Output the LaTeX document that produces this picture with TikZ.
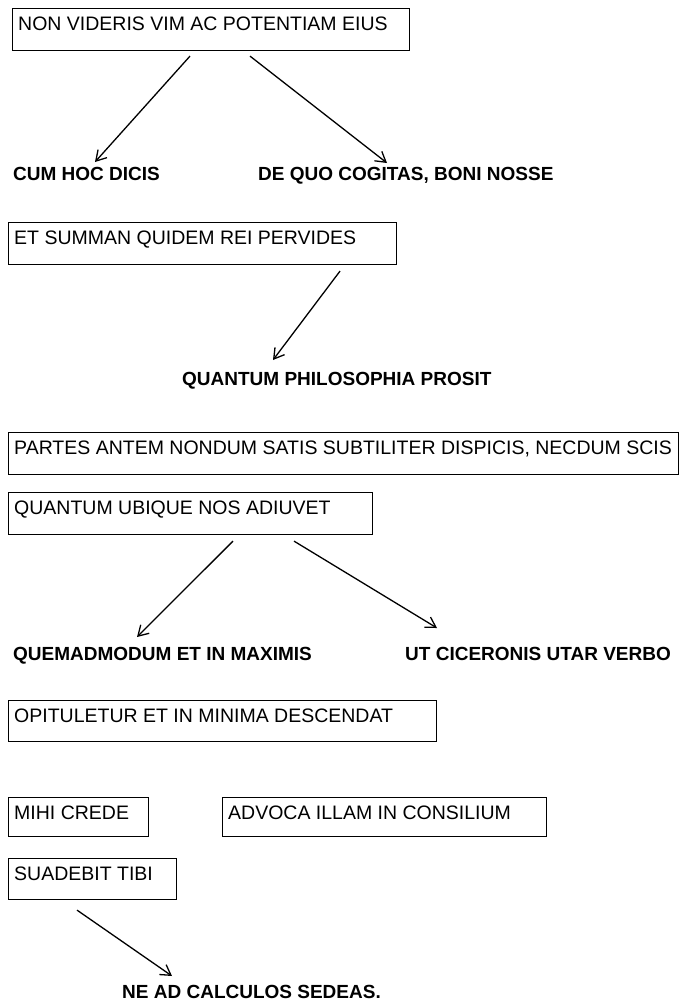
\documentclass[tikz,border=0pt]{standalone}
\usepackage{fontspec}
\setmainfont{Liberation Sans}
\usetikzlibrary{arrows.meta}
\begin{document}
\begin{tikzpicture}[x=1pt,y=-1pt,
  box/.style={draw, line width=1.1pt, inner sep=0pt, anchor=north west},
  boxtext/.style={font=\fontsize{19.5}{22}\selectfont, anchor=north west, inner sep=0pt},
  tag/.style={font=\bfseries\fontsize{19}{22}\selectfont, anchor=north west, inner sep=0pt},
  arr/.style={line width=1.3pt, -{Straight Barb[length=10pt,width=12pt,line width=1.3pt]}}
]
\useasboundingbox (0,0) rectangle (681,1007);

% boxes
\node[box, minimum width=397pt, minimum height=42pt] (b1) at (12,8) {};
\node[boxtext] (t1) at ([shift={(6pt,-9pt)}]b1.north west) {NON VIDERIS VIM AC POTENTIAM EIUS};
\node[box, minimum width=388pt, minimum height=42pt] (b2) at (8,222) {};
\node[boxtext] (t2) at ([shift={(6pt,-9pt)}]b2.north west) {ET SUMMAN QUIDEM REI PERVIDES};
\node[box, minimum width=670pt, minimum height=42pt] (b3) at (8,432) {};
\node[boxtext] (t3) at ([shift={(6pt,-9pt)}]b3.north west) {PARTES ANTEM NONDUM SATIS SUBTILITER DISPICIS, NECDUM SCIS};
\node[box, minimum width=364pt, minimum height=42pt] (b4) at (8,492) {};
\node[boxtext] (t4) at ([shift={(6pt,-9pt)}]b4.north west) {QUANTUM UBIQUE NOS ADIUVET};
\node[box, minimum width=428pt, minimum height=41pt] (b5) at (8,700) {};
\node[boxtext] (t5) at ([shift={(6pt,-9pt)}]b5.north west) {OPITULETUR ET IN MINIMA DESCENDAT};
\node[box, minimum width=140pt, minimum height=39pt] (b6) at (8,797) {};
\node[boxtext] (t6) at ([shift={(6pt,-9pt)}]b6.north west) {MIHI CREDE};
\node[box, minimum width=324pt, minimum height=39pt] (b7) at (222,797) {};
\node[boxtext] (t7) at ([shift={(6pt,-9pt)}]b7.north west) {ADVOCA ILLAM IN CONSILIUM};
\node[box, minimum width=168pt, minimum height=41pt] (b8) at (8,858) {};
\node[boxtext] (t8) at ([shift={(6pt,-9pt)}]b8.north west) {SUADEBIT TIBI};

% bold labels
\node[tag] (l1) at (13,167) {CUM HOC DICIS};
\node[tag] (l2) at (258,167) {DE QUO COGITAS, BONI NOSSE};
\node[tag] (l3) at (182,372) {QUANTUM PHILOSOPHIA PROSIT};
\node[tag] (l4) at (13,647) {QUEMADMODUM ET IN MAXIMIS};
\node[tag] (l5) at (405,647) {UT CICERONIS UTAR VERBO};
\node[tag] (l6) at (122,985) {NE AD CALCULOS SEDEAS.};

% arrows
\draw[arr] ([xshift=178pt,yshift=-5pt]b1.south west) -- ([xshift=82pt,yshift=5pt]l1.north west);
\draw[arr] ([xshift=238pt,yshift=-5pt]b1.south west) -- ([xshift=129pt,yshift=4pt]l2.north west);
\draw[arr] ([xshift=332pt,yshift=-6pt]b2.south west) -- ([xshift=91pt,yshift=12pt]l3.north west);
\draw[arr] ([xshift=225pt,yshift=-6pt]b4.south west) -- ([xshift=124pt,yshift=10pt]l4.north west);
\draw[arr] ([xshift=286pt,yshift=-6pt]b4.south west) -- ([xshift=32pt,yshift=19pt]l5.north west);
\draw[arr] ([xshift=69pt,yshift=-10pt]b8.south west) -- ([xshift=50pt,yshift=9pt]l6.north west);
\end{tikzpicture}
\end{document}
